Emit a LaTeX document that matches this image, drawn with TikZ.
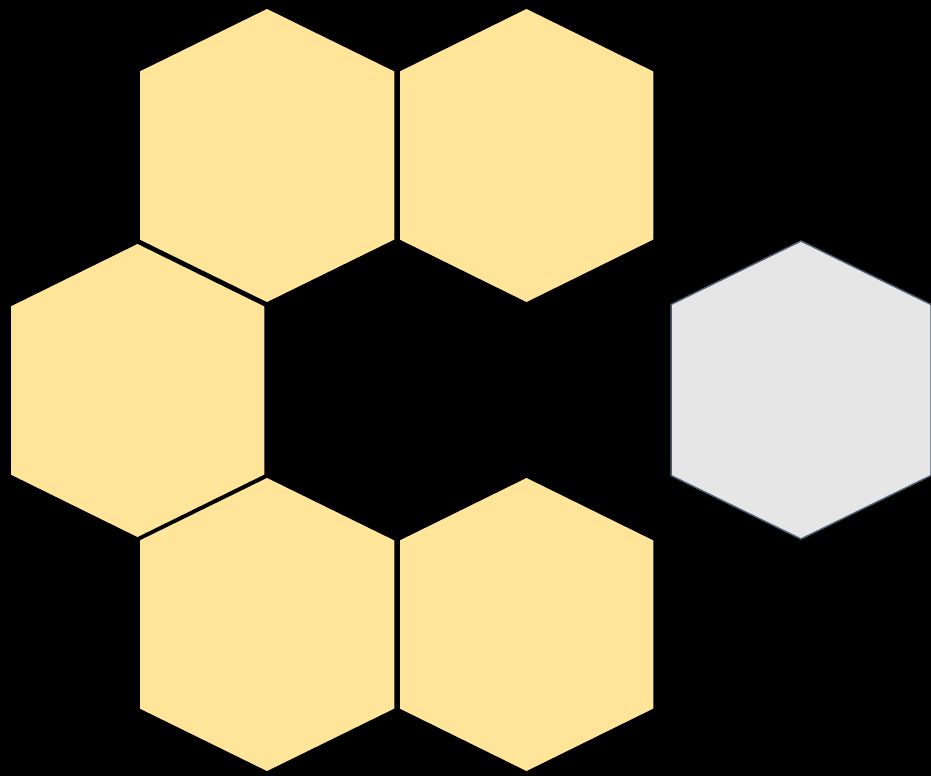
\documentclass[tikz,border=0pt]{standalone}
\usetikzlibrary{calc}
\definecolor{hexyellow}{HTML}{FFE599}
\definecolor{hexgray}{HTML}{E6E6E6}
\definecolor{hexedge}{HTML}{4E5D73}
\tikzset{
  yhex/.style={fill=hexyellow, draw=black, line width=1.5pt, line join=miter},
  ghex/.style={fill=hexgray, draw=hexedge, line width=1.5pt, line join=miter},
}
% #1 style, #2 cx, #3 top y, #4 half width, #5 height
\newcommand\myhex[5]{%
  \path[#1] (#2,#3) -- ({#2+#4},{#3+0.213*#5}) -- ({#2+#4},{#3+0.787*#5}) -- (#2,{#3+#5}) -- ({#2-#4},{#3+0.787*#5}) -- ({#2-#4},{#3+0.213*#5}) -- cycle;}
\begin{document}
\begin{tikzpicture}[x=1pt,y=-1pt]
\fill[black] (0,0) rectangle (931,776);
\useasboundingbox (0,0) rectangle (931,776);
\myhex{yhex}{267}{8}{128}{295}
\myhex{yhex}{526.5}{8}{127.5}{295}
\myhex{yhex}{137.5}{243}{127.5}{295}
\myhex{yhex}{267}{477}{128}{295}
\myhex{yhex}{526.5}{477}{127.5}{295}
\myhex{ghex}{801}{241}{130}{298}
\end{tikzpicture}
\end{document}
